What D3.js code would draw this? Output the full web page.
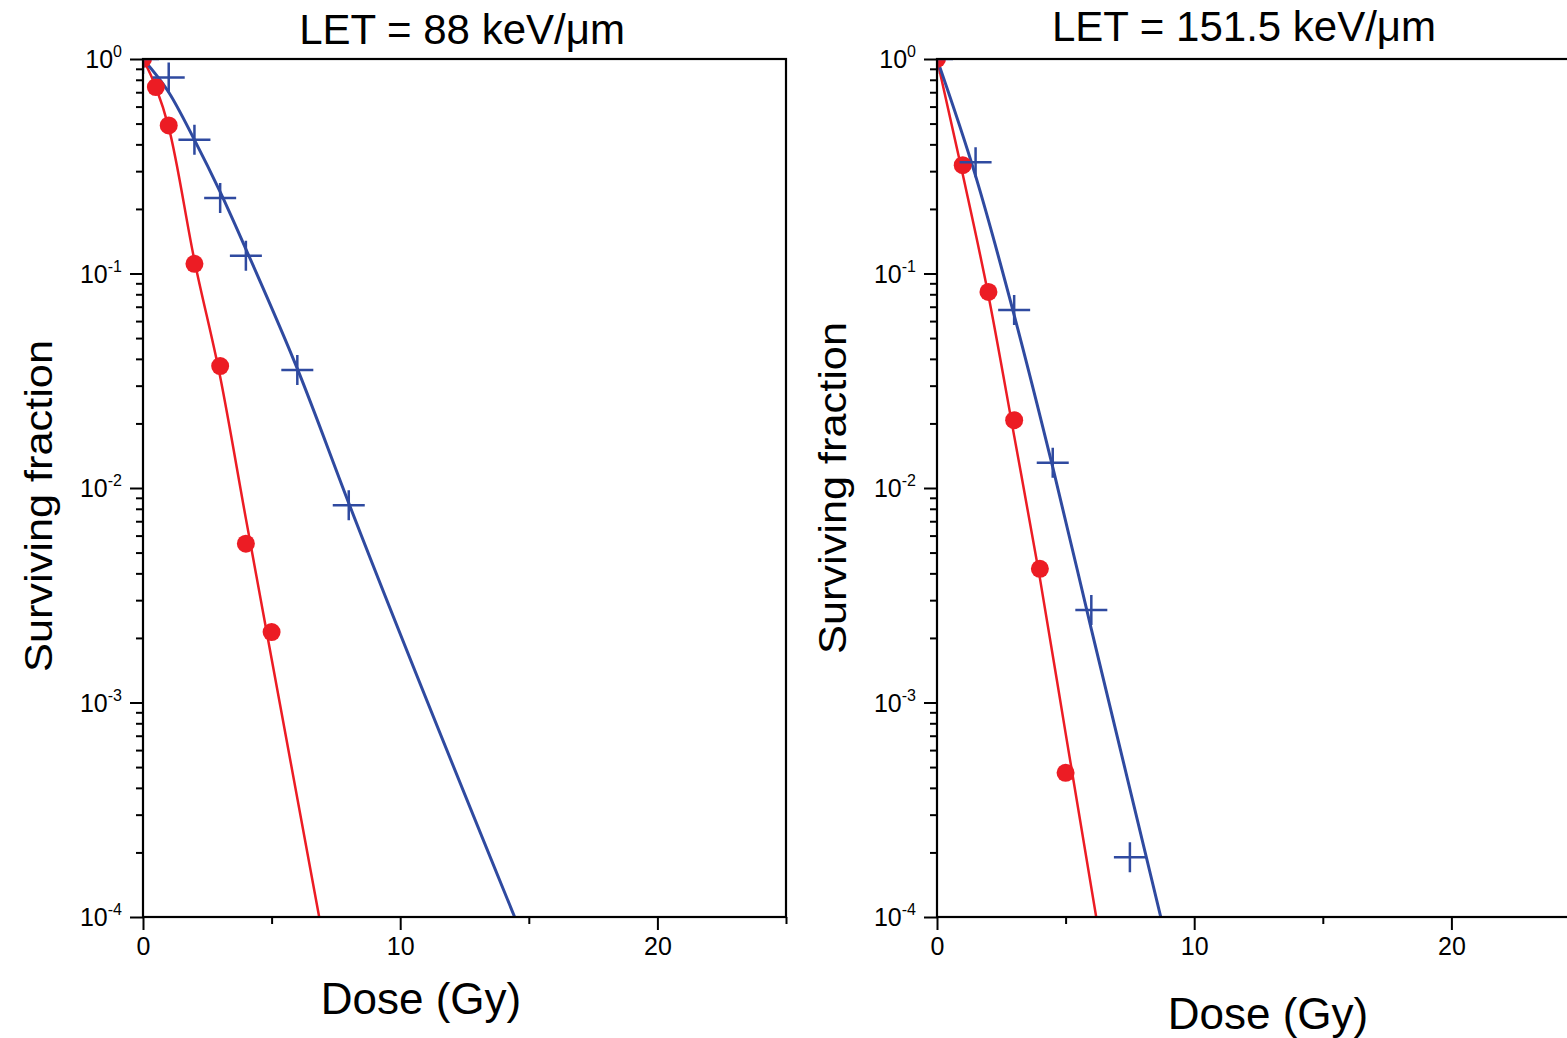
<!DOCTYPE html>
<html>
<head>
<meta charset="utf-8">
<script src="https://cdn.jsdelivr.net/npm/d3@7"></script>
<style>
  body { margin: 0; background: #fff; }
  svg { display: block; }
  text { font-family: "Liberation Sans", Arial, sans-serif; fill: #000; }
</style>
</head>
<body>
<svg id="chart" width="1567" height="1038"></svg>
<script>
// ---- axis values ----
const xMajor = [0, 10, 20];
const xMinor = [5, 15, 25];
const yExps = [0, -1, -2, -3, -4];

// ---- LET = 88 keV/um ----
const doseRedA = [0, 0.5, 1, 2, 3, 4, 5];
const sfRedA = [1, 0.74, 0.49, 0.111, 0.037, 0.0055, 0.00213];
const doseBlueA = [0, 1, 2, 3, 4, 6, 8];
const sfBlueA = [1, 0.82, 0.42, 0.225, 0.121, 0.0355, 0.0083];
const fitDoseRedA = [0, 0.5, 1, 2, 3, 4, 5, 6.85];
const fitSfRedA = [1, 0.74, 0.48, 0.115, 0.033, 0.0072, 0.0016, 0.0001];
const fitDoseBlueA = [0, 1, 2, 3, 4, 6, 8, 14.45];
const fitSfBlueA = [1, 0.70, 0.42, 0.24, 0.13, 0.036, 0.0085, 0.0001];

// ---- LET = 151.5 keV/um ----
const doseRedB = [0, 1, 2, 3, 4, 5];
const sfRedB = [1, 0.32, 0.082, 0.0207, 0.0042, 0.00047];
const doseBlueB = [0, 1.5, 3, 4.5, 6, 7.5];
const sfBlueB = [1, 0.33, 0.0676, 0.0131, 0.0027, 0.00019];
const fitDoseRedB = [0, 1, 2, 3, 4, 5, 6.19];
const fitSfRedB = [1, 0.29, 0.079, 0.0175, 0.0038, 0.00072, 0.0001];
const fitDoseBlueB = [0, 1.5, 3, 4.5, 6, 8.7];
const fitSfBlueB = [1, 0.285, 0.064, 0.0125, 0.0022, 0.0001];

const RED = '#ec1c24';
const BLUE = '#2f4aa0';
const W = 643, H = 858;

const svg = d3.select('#chart');
const zip = (xs, ys) => xs.map((d, i) => [d, ys[i]]);

function drawPanel (opt) {
  const g = svg.append('g').attr('transform', `translate(${opt.left},${opt.top})`);
  const x = d3.scaleLinear().domain([0, 25]).range([0, W]);
  const y = d3.scaleLog().domain([1e-4, 1]).range([H, 0]);

  const clipId = 'clip-' + opt.id;
  g.append('clipPath').attr('id', clipId)
    .append('rect').attr('width', W).attr('height', H);

  // x axis: major + minor ticks
  const xa = g.append('g').attr('transform', `translate(0,${H})`)
    .call(d3.axisBottom(x).tickValues(xMajor).tickSize(13).tickPadding(7));
  const xm = g.append('g').attr('transform', `translate(0,${H})`)
    .call(d3.axisBottom(x).tickValues(xMinor).tickSize(7).tickFormat(''));
  // y axis
  const yMinor = [];
  yExps.slice(1).forEach(e => { for (let k = 2; k <= 9; k++) yMinor.push(k * Math.pow(10, e)); });
  const ya = g.append('g')
    .call(d3.axisLeft(y).tickValues(yExps.map(e => Math.pow(10, e))).tickSize(13).tickFormat(''));
  const ym = g.append('g')
    .call(d3.axisLeft(y).tickValues(yMinor).tickSize(7).tickFormat(''));
  [xa, xm, ya, ym].forEach(a => {
    a.select('.domain').remove();
    a.selectAll('line').attr('stroke', '#000').attr('stroke-width', 2);
  });
  xa.selectAll('text').attr('font-size', 25).attr('font-family', '"Liberation Sans", Arial, sans-serif').attr('fill', '#000');

  // y tick labels as 10^n
  yExps.forEach(e => {
    const t = g.append('text')
      .attr('x', -21).attr('y', y(Math.pow(10, e)) + 9)
      .attr('text-anchor', 'end').attr('font-size', 25);
    t.append('tspan').text('10');
    t.append('tspan').attr('dy', -11).attr('font-size', 16).text(String(e));
  });

  const plot = g.append('g').attr('clip-path', `url(#${clipId})`);
  const line = d3.line().x(d => x(d[0])).y(d => y(d[1])).curve(d3.curveMonotoneX);

  plot.append('path').datum(zip(opt.fitDoseRed, opt.fitSfRed))
    .attr('d', line).attr('fill', 'none').attr('stroke', RED).attr('stroke-width', 2.5);
  plot.append('path').datum(zip(opt.fitDoseBlue, opt.fitSfBlue))
    .attr('d', line).attr('fill', 'none').attr('stroke', BLUE).attr('stroke-width', 3);

  plot.selectAll('circle.red').data(zip(opt.doseRed, opt.sfRed)).enter()
    .append('circle').attr('class', 'red')
    .attr('cx', d => x(d[0])).attr('cy', d => y(d[1])).attr('r', 9)
    .attr('fill', RED);
  plot.selectAll('path.cross').data(zip(opt.doseBlue, opt.sfBlue)).enter()
    .append('path').attr('class', 'cross')
    .attr('transform', d => `translate(${x(d[0])},${y(d[1])})`)
    .attr('d', 'M-16,0H16M0,-15V15')
    .attr('stroke', BLUE).attr('stroke-width', 2.5).attr('fill', 'none');

  // frame
  g.append('rect').attr('width', W).attr('height', H)
    .attr('fill', 'none').attr('stroke', '#000').attr('stroke-width', 2.2);

  // titles and axis labels
  svg.append('text').attr('x', opt.titleX).attr('y', opt.titleY)
    .attr('text-anchor', 'middle').attr('font-size', 42).text(opt.title);
  svg.append('text').attr('x', opt.xLabelX).attr('y', opt.xLabelY)
    .attr('text-anchor', 'middle').attr('font-size', 44).text('Dose (Gy)');
  svg.append('text')
    .attr('transform', `translate(${opt.yLabelX},${opt.yLabelY}) rotate(-90)`)
    .attr('text-anchor', 'middle').attr('font-size', 38)
    .attr('textLength', 332).attr('lengthAdjust', 'spacingAndGlyphs')
    .text('Surviving fraction');
}

drawPanel({
  id: 'a', left: 143, top: 59,
  title: 'LET = 88 keV/\u03bcm', titleX: 462, titleY: 44,
  xLabelX: 421, xLabelY: 1014, yLabelX: 52, yLabelY: 506,
  doseRed: doseRedA, sfRed: sfRedA, doseBlue: doseBlueA, sfBlue: sfBlueA,
  fitDoseRed: fitDoseRedA, fitSfRed: fitSfRedA, fitDoseBlue: fitDoseBlueA, fitSfBlue: fitSfBlueA
});
drawPanel({
  id: 'b', left: 937, top: 59,
  title: 'LET = 151.5 keV/\u03bcm', titleX: 1244, titleY: 41,
  xLabelX: 1268, xLabelY: 1029, yLabelX: 846, yLabelY: 488,
  doseRed: doseRedB, sfRed: sfRedB, doseBlue: doseBlueB, sfBlue: sfBlueB,
  fitDoseRed: fitDoseRedB, fitSfRed: fitSfRedB, fitDoseBlue: fitDoseBlueB, fitSfBlue: fitSfBlueB
});
</script>
</body>
</html>
